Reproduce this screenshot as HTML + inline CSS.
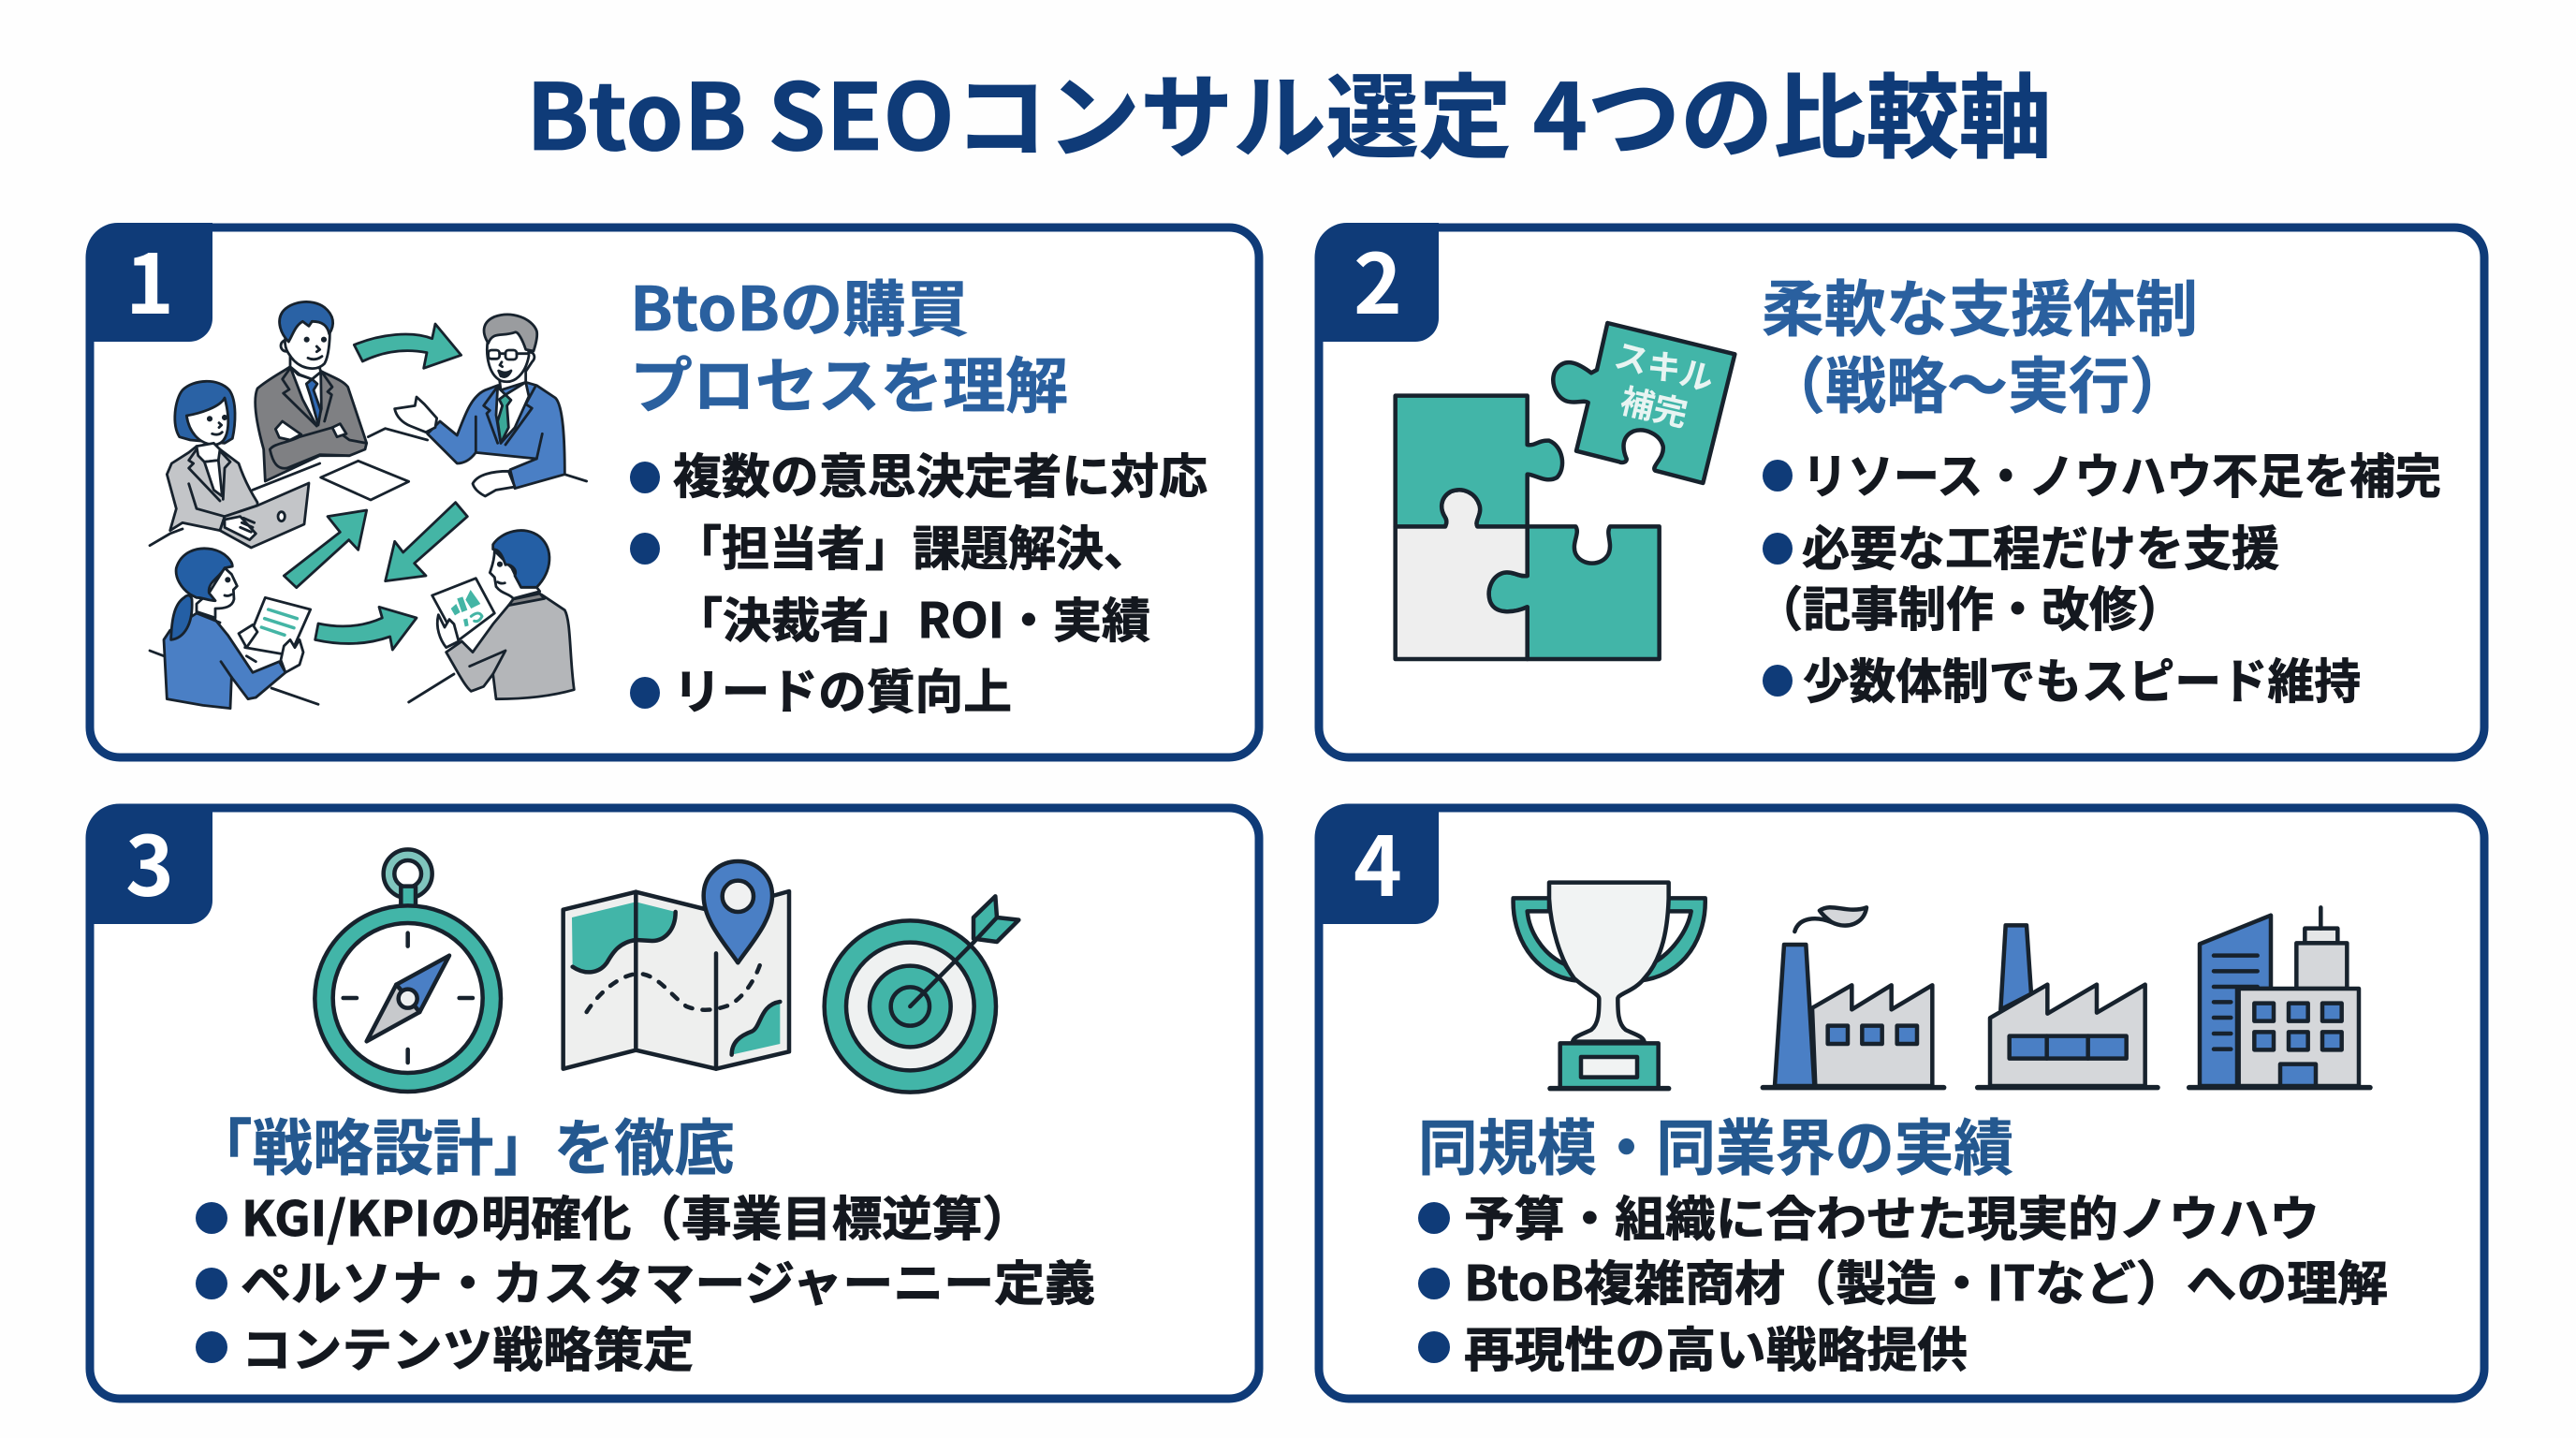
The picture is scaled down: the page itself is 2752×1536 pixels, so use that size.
<!DOCTYPE html>
<html lang="ja"><head><meta charset="utf-8"><title>BtoB SEOコンサル選定 4つの比較軸</title>
<style>
html,body{margin:0;padding:0;background:#fff}
svg{display:block}
text{font-weight:700}
.j{font-family:"Noto Sans CJK JP","Liberation Sans",sans-serif}
.h{font-family:"Noto Sans CJK JP",sans-serif;font-size:65px;fill:#2a609f;stroke:#2a609f;stroke-width:.6px;font-weight:700}
.h2{fill:#24588f;stroke:#24588f}
.b{font-family:"Noto Sans CJK JP",sans-serif;font-size:51px;fill:#14181f;stroke:#14181f;stroke-width:.9px;font-weight:700}
.n{font-family:"Noto Sans CJK JP",sans-serif;font-size:88px;fill:#fff;font-weight:700;text-anchor:middle}
.i *{vector-effect:non-scaling-stroke;stroke-linejoin:round;stroke-linecap:round}
.k *{stroke:#17222d;stroke-width:4.5}
.p *{stroke:#17222d;stroke-width:2.8}
.ns{stroke:none!important}
.nf{fill:none}
</style></head><body>
<svg xmlns="http://www.w3.org/2000/svg" width="2752" height="1536" viewBox="0 0 2752 1536">
<rect width="2752" height="1536" fill="#fefefe"/>
<text class="j" x="562" y="160" font-size="98" fill="#0f3b78" stroke="#0f3b78" stroke-width=".8" textLength="1630" lengthAdjust="spacingAndGlyphs">BtoB SEOコンサル選定 4つの比較軸</text>

<!-- cards -->
<g fill="#fff" stroke="#0f3b78" stroke-width="9">
<rect x="96" y="243" width="1249" height="566" rx="32"/>
<rect x="1409" y="243" width="1245" height="566" rx="32"/>
<rect x="96" y="863" width="1249" height="631" rx="32"/>
<rect x="1409" y="863" width="1245" height="631" rx="32"/>
</g>
<g fill="#0f3b78">
<path d="M92 272a34 34 0 0 1 34-34H227V340a25 25 0 0 1-25 25H92Z"/>
<path d="M1405 272a34 34 0 0 1 34-34H1537V340a25 25 0 0 1-25 25H1405Z"/>
<path d="M92 893a34 34 0 0 1 34-34H227V962a25 25 0 0 1-25 25H92Z"/>
<path d="M1405 893a34 34 0 0 1 34-34H1537V962a25 25 0 0 1-25 25H1405Z"/>
</g>
<text class="n" x="160" y="335">1</text>
<text class="n" x="1472" y="335">2</text>
<text class="n" x="160" y="957">3</text>
<text class="n" x="1472" y="957">4</text>

<!-- Card 1 illustration: upper half -->
<g class="i p" transform="translate(160,310) scale(.33333)">
<path class="nf" d="M330 640 L545 555 M700 470 L755 443 L890 480 M1330 590 L1400 612"/>
<path d="M548 600 L668 547 L830 613 L708 672 Z" fill="#fff"/>
<path d="M655 175 C740 140 840 130 905 155 L915 108 L998 208 L878 250 L888 200 C810 185 740 200 682 228 Z" fill="#44b5a5"/>
<!-- man top -->
<path d="M370 612 L365 510 C340 420 330 350 345 315 C380 285 420 265 450 245 L550 260 C590 280 620 290 635 310 L695 490 L640 530 L545 530 Z" fill="#7f8083"/>
<path d="M450 245 L475 270 L520 285 L548 262 L550 380 L535 435 L490 350 Z" fill="#fff"/>
<path d="M502 300 L520 285 L537 300 L525 320 L548 385 L540 432 L515 340 Z" fill="#2f68b2"/>
<path class="nf" d="M450 250 L425 285 L447 318 L428 330 L535 435 M550 260 L585 310 L570 325 L583 335 L560 420"/>
<path d="M385 510 C400 490 440 490 480 470 L585 440 L640 480 L695 490 L690 510 L640 530 L545 527 L440 570 C410 575 395 555 385 510 Z" fill="#7f8083"/>
<path d="M403 445 L425 420 L485 462 L450 480 L415 472 Z" fill="#fff"/>
<path d="M585 440 L610 428 L630 460 L600 470 Z" fill="#fff"/>
<circle cx="438" cy="178" r="18" fill="#fff"/>
<path d="M450 200 L450 245 L480 270 L520 285 L548 262 L540 230 Z" fill="#fff"/>
<path d="M440 130 C430 160 430 185 450 210 C475 250 530 265 560 235 C575 210 580 140 575 110 C540 90 480 90 440 130 Z" fill="#fff"/>
<path d="M445 165 C420 140 405 100 425 70 C450 35 520 25 560 55 C590 80 595 110 575 140 C570 115 555 100 520 100 L510 115 L490 100 C465 115 460 140 445 165 Z" fill="#2a62a5"/>
<circle cx="503" cy="158" r="5" fill="#17222d"/><circle cx="558" cy="158" r="5" fill="#17222d"/>
<path class="nf" d="M535 180 L545 190 L535 197 M507 217 Q530 228 552 212"/>
<!-- man right -->
<path d="M890 460 L930 420 L985 465 C1010 400 1030 340 1075 320 L1115 305 L1205 295 L1240 305 L1300 345 C1325 370 1330 480 1330 590 L1170 635 L1155 575 L1240 540 L1045 520 C1030 540 1010 555 985 555 Z" fill="#4a7fc5"/>
<path d="M1115 310 L1140 335 L1205 295 L1215 340 L1170 440 L1125 490 L1110 400 Z" fill="#fff"/>
<path d="M1120 350 L1140 335 L1158 352 L1145 370 L1150 440 L1125 490 L1115 420 L1130 370 Z" fill="#3aa898"/>
<path class="nf" d="M1110 315 L1070 370 L1090 385 L1080 395 L1115 490 M1235 310 L1205 365 L1225 378 L1140 495 M1045 405 V520 M1258 460 L1240 540"/>
<path d="M785 380 L850 370 L855 342 L880 365 L920 410 L915 440 L885 455 L835 435 C810 425 790 405 785 380 Z" fill="#fff"/>
<path d="M1035 620 C1050 590 1100 580 1150 580 L1170 630 L1110 640 L1075 660 C1055 650 1040 635 1035 620 Z" fill="#fff"/>
<path d="M1205 260 L1225 230 C1240 215 1230 195 1215 200 L1120 280 L1125 320 L1205 295 Z" fill="#fff"/>
<path d="M1090 130 C1070 200 1085 270 1125 290 C1170 305 1205 265 1215 210 L1210 130 Z" fill="#fff"/>
<path d="M1085 170 C1060 130 1070 100 1105 85 C1160 65 1225 90 1240 130 C1245 150 1235 180 1230 195 L1205 190 C1195 160 1180 130 1170 135 C1130 150 1100 130 1085 170 Z" fill="#9a9c9f"/>
<rect x="1085" y="192" width="36" height="28" rx="10" fill="none"/><rect x="1140" y="192" width="36" height="30" rx="10" fill="none"/>
<path class="nf" d="M1121 203 H1140 M1176 203 H1210 M1128 230 L1122 240 L1130 245"/>
<path d="M1118 258 Q1140 270 1158 258 Q1145 285 1125 275 Z" fill="#17222d"/>
<!-- woman left -->
<path d="M95 470 C70 430 80 350 105 320 C140 285 220 280 255 320 C280 355 275 430 265 475 L240 490 L130 480 Z" fill="#2a62a5"/>
<path d="M118 402 C125 450 155 495 210 495 C255 490 260 420 240 345 C225 375 160 395 118 402 Z" fill="#fff"/>
<circle cx="192" cy="412" r="5" fill="#17222d"/><circle cx="240" cy="408" r="5" fill="#17222d"/>
<path class="nf" d="M200 460 Q220 467 232 455 M222 425 L230 432 L222 440"/>
<path d="M55 590 L70 555 L125 520 L150 500 L225 510 L285 555 C300 600 320 640 345 680 L345 690 L240 725 L225 770 L105 745 L65 770 L85 700 Z" fill="#c3c5c8"/>
<path d="M150 500 L155 530 L175 550 L220 545 L225 510 L205 490 Z" fill="#fff"/>
<path d="M175 550 L220 545 L232 660 L205 640 Z" fill="#fff"/>
<path class="nf" d="M150 510 L125 545 L140 555 L125 570 L225 675 M225 515 L258 550 L240 570 L235 670 M125 620 L150 700 L240 725"/>
<path d="M345 690 L510 618 L495 750 L325 825 L225 770 L240 725 Z" fill="#c3c5c8"/>
<path d="M240 735 L290 725 L340 780 L320 800 L240 760 Z" fill="#fff"/>
<path d="M300 730 L335 745 M295 745 L330 760 M290 760 L325 775" class="nf"/>
<ellipse cx="422" cy="725" rx="11" ry="15" fill="#fff"/>
<path class="nf" d="M0 818 L65 780 L105 765"/>
</g>
<!-- Card 1 illustration: lower half -->
<g class="i p" transform="translate(160,550) scale(.33333)">
<path class="nf" d="M0 435 L45 452 M310 452 L340 470 M390 555 L540 607 M830 600 L975 510"/>
<path d="M430 195 L610 55 L570 5 L695 -15 L668 112 L638 80 L470 233 Z" fill="#44b5a5"/>
<path d="M980 -40 L1018 5 L848 155 L885 195 L755 212 L785 85 L812 120 Z" fill="#44b5a5"/>
<path d="M540 348 C620 365 690 355 745 330 L735 295 L855 330 L778 432 L770 390 C700 415 620 420 530 400 Z" fill="#44b5a5"/>
<!-- woman bottom -->
<path d="M240 170 L262 190 L280 228 L268 240 L270 270 C265 295 240 300 210 300 L210 330 L150 310 L150 285 L190 250 Z" fill="#fff"/>
<path d="M370 265 L515 303 L450 450 L305 425 Z" fill="#fff"/>
<path class="nf" d="M380 303 L472 332 M368 332 L462 362 M358 360 L432 385" style="stroke:#44b5a5;stroke-width:3.5"/>
<path d="M285 380 L330 352 L345 375 L310 425 Z" fill="#fff"/>
<path d="M65 370 L150 315 L205 330 L250 385 L330 505 L415 470 L435 505 L340 585 L315 590 L262 520 L258 620 L170 610 L55 590 L45 400 Z" fill="#4a7fc5"/>
<path class="nf" d="M150 315 L225 345 M228 470 L262 520"/>
<path d="M420 465 L430 420 L450 400 L465 425 L480 400 L492 440 L480 480 L435 505 Z" fill="#fff"/>
<path d="M210 275 C190 275 170 265 150 265 L130 255 C100 235 80 200 85 170 C100 120 150 100 200 110 C245 120 265 150 265 165 L240 170 C220 205 185 215 190 250 Z" fill="#245fa5"/>
<path d="M110 265 C80 285 70 330 68 400 C110 395 140 350 135 270 C130 255 120 255 110 265 Z" fill="#245fa5"/>
<circle cx="250" cy="208" r="5" fill="#17222d"/>
<path class="nf" d="M240 258 Q252 262 262 255"/>
<!-- man bottom right -->
<path d="M905 258 L1045 203 L1105 315 L985 405 Z" fill="#fff"/>
<path d="M965 300 L982 285 L995 312 L978 322 Z M985 268 L1003 262 L1018 305 L1000 312 Z M1012 272 L1028 240 L1060 285 L1030 300 Z M1005 335 L1018 332 L1022 355 L1010 358 Z" fill="#44b5a5" class="ns"/>
<path d="M1030 325 Q1055 305 1065 325 Q1055 345 1040 340" class="nf" style="stroke:#44b5a5;stroke-width:3"/>
<path d="M925 320 C915 360 930 400 950 425 L990 405 L975 350 L960 335 L945 360 Z" fill="#fff"/>
<path d="M1150 290 L1255 255 L1330 305 C1350 340 1345 450 1360 560 C1290 580 1200 590 1110 590 L1100 510 L1070 550 L1030 565 C1010 550 985 500 950 440 L1000 405 L1035 440 L1100 350 Z" fill="#b4b6b9"/>
<path d="M1150 290 L1165 270 L1250 252 L1265 268 Z" fill="#808285"/>
<path class="nf" d="M1140 435 L1100 510 M1140 435 L1025 485"/>
<path d="M1105 115 C1105 145 1095 170 1090 185 L1105 200 L1110 230 C1130 255 1150 250 1165 268 L1250 245 L1240 232 L1190 232 L1160 170 Z" fill="#fff"/>
<path d="M1100 95 C1125 55 1200 30 1250 70 C1295 110 1290 180 1240 232 L1190 232 L1170 195 C1180 170 1150 155 1140 160 C1130 130 1120 110 1100 110 Z" fill="#245fa5"/>
<circle cx="1122" cy="158" r="5" fill="#17222d"/>
<path class="nf" d="M1115 215 Q1125 222 1138 218"/>
</g>

<!-- Card 2 puzzle -->
<g class="i k" transform="translate(1470,330) scale(.33333)">
<path fill="#42b5a8" d="M485 697 H640 C655 720 625 750 640 785 C660 825 725 825 745 785 C760 750 735 720 750 697 H908 V1122 H485 V955 C440 975 380 980 365 935 C355 900 370 855 410 845 C440 840 460 860 485 855 Z"/>
<path fill="#eeeeee" d="M62 697 H222 C225 690 230 680 220 665 C205 640 205 605 240 585 C280 570 320 590 332 630 C340 660 315 680 325 697 H485 V855 C460 860 440 840 410 845 C370 855 355 900 365 935 C380 980 440 975 485 955 V1122 H62 Z"/>
<path fill="#42b5a8" d="M62 278 H485 V435 C510 440 520 420 555 422 C600 440 610 510 580 540 C545 560 510 530 485 530 V697 H325 C315 680 340 660 332 630 C320 590 280 570 240 585 C205 605 205 640 220 665 C230 680 225 690 222 697 H62 Z"/>
<path fill="#42b5a8" d="M742 45 L1150 145 L1048 558 L895 518 C880 505 925 480 920 440 C910 400 860 380 825 392 C785 410 790 450 803 480 C805 490 790 495 780 490 L642 455 L680 300 C665 290 640 305 610 295 C570 280 555 220 580 190 C610 155 650 175 690 205 L708 195 Z"/>
</g>
<text class="j" transform="translate(1778,392) rotate(15)" y="13" text-anchor="middle" font-size="36" fill="#e8f4f2">スキル</text>
<text class="j" transform="translate(1767,435) rotate(13)" y="13" text-anchor="middle" font-size="36" fill="#e8f4f2">補完</text>

<!-- Card 3 icons -->
<g class="i k" transform="translate(320,900) scale(.33333)">
<circle cx="347" cy="100" r="78" fill="#7fc5bd"/>
<circle cx="347" cy="100" r="43" fill="#fff"/>
<path d="M325 140 H372 V205 H325 Z" fill="#42b5a8"/>
<circle cx="347" cy="500" r="298" fill="#42b5a8"/>
<circle cx="347" cy="498" r="240" fill="#fff"/>
<path class="nf" d="M347 290 V332 M347 663 V705 M140 498 H183 M512 498 H555"/>
<path d="M480 362 L310 455 L385 543 Z" fill="#4a7fc5"/>
<path d="M215 637 L310 455 L385 543 Z" fill="#c7c9cc"/>
<circle cx="347" cy="500" r="30" fill="#eef0f0"/>
<path d="M845 215 L1078 158 L1335 222 L1569 156 V670 L1335 725 L1078 665 L845 725 Z" fill="#eeefee"/>
<path class="ns" d="M873 240 L1078 190 L1205 222 C1205 280 1170 315 1130 315 L1078 312 C1020 320 1000 360 985 385 C960 420 915 425 875 398 Z" fill="#42b5a8"/>
<path class="nf" d="M1205 222 C1205 280 1170 315 1130 315 L1078 312 C1020 320 1000 360 985 385 C960 420 915 425 875 398"/>
<path class="ns" d="M1385 680 C1385 640 1410 620 1450 605 C1480 590 1475 520 1540 510 V645 Z" fill="#42b5a8"/>
<path class="nf" d="M1385 680 C1385 640 1410 620 1450 605 C1480 590 1475 520 1540 510"/>
<path class="nf" d="M1078 158 V665 M1335 355 V725"/>
<path class="nf" d="M920 543 C960 480 1030 420 1090 420 C1150 425 1190 490 1240 525 C1290 545 1340 535 1380 520 C1430 490 1465 430 1480 378" stroke-dasharray="8 11"/>
<path d="M1405 385 C1360 320 1295 250 1295 170 C1295 105 1345 60 1405 60 C1465 60 1515 105 1515 170 C1515 250 1450 320 1405 385 Z" fill="#4a7fc5"/>
<circle cx="1405" cy="172" r="50" fill="#f0f1f1"/>
</g>
<g class="i k" transform="translate(830,900) scale(.33333)">
<circle cx="427" cy="525" r="275" fill="#42b5a8"/>
<circle cx="427" cy="525" r="205" fill="#eff1f1"/>
<circle cx="427" cy="525" r="130" fill="#42b5a8"/>
<circle cx="427" cy="525" r="62" fill="#42b5a8"/>
<path class="nf" d="M427 525 L630 320"/>
<path d="M700 172 L705 240 L775 248 L705 318 L630 308 L630 240 Z" fill="#42b5a8"/>
<path class="nf" d="M630 320 L705 240"/>
</g>

<!-- Card 4 icons -->
<g class="i k" transform="translate(1600,930) scale(.33333)">
<path d="M165 88 H50 C45 210 115 335 250 352 L215 300 C140 265 100 190 95 130 H165 Z" fill="#42b5a8"/>
<path d="M545 88 H665 C670 210 600 335 460 352 L490 300 C560 265 610 190 620 130 H545 Z" fill="#42b5a8"/>
<path d="M165 38 H548 V90 C545 180 530 280 470 345 C440 385 385 395 385 410 C385 450 385 490 410 510 C440 525 465 530 470 548 H240 C245 530 270 525 300 510 C325 490 325 450 325 410 C325 395 290 385 245 345 C200 285 170 180 165 90 Z" fill="#f1f3f3"/>
<rect x="200" y="553" width="315" height="145" fill="#42b5a8"/>
<rect x="267" y="597" width="180" height="65" fill="#f1f3f3"/>
<path class="nf" d="M168 698 H548" style="stroke-width:5.5"/>
<path d="M918 237 H988 L1015 690 H888 Z" fill="#4a7fc5"/>
<path d="M1008 440 L1135 367 V445 L1262 367 V445 L1393 367 V690 H1018 Z" fill="#d5d7da"/>
<rect x="1058" y="497" width="64" height="58" fill="#4a7fc5"/><rect x="1168" y="497" width="64" height="58" fill="#4a7fc5"/><rect x="1280" y="497" width="64" height="58" fill="#4a7fc5"/>
<path d="M1032 128 C1070 100 1120 140 1182 118 C1175 170 1120 190 1070 165 C1050 150 1040 140 1032 128 Z" fill="#d5d7da"/>
<path class="nf" d="M952 195 C965 150 1020 145 1070 165"/>
<path class="nf" d="M850 695 H1430" style="stroke-width:5.5"/>
</g>
<g class="i k" transform="translate(2100,950) scale(.33333)">
<path d="M128 115 H195 L210 335 L112 385 Z" fill="#4a7fc5"/>
<path d="M78 412 L262 305 V398 L420 305 V395 L575 305 V630 H78 Z" fill="#d5d7da"/>
<rect x="140" y="470" width="375" height="72" fill="#4a7fc5"/>
<path class="nf" d="M260 470 V542 M392 470 V542"/>
<path class="nf" d="M38 635 H615" style="stroke-width:5.5"/>
<path d="M750 175 L978 83 V318 H870 V630 H750 Z" fill="#4a7fc5"/>
<path class="nf" d="M795 212 H935 M795 262 H935 M795 312 H935 M795 361 H850 M795 411 H850 M795 462 H850 M795 512 H850"/>
<path d="M1087 125 H1192 V172 H1087 Z" fill="#e6e7e8"/>
<path class="nf" d="M1138 58 V125"/>
<path d="M1060 172 H1222 V318 H1060 Z" fill="#d5d7da"/>
<path d="M875 318 H1260 V630 H875 Z" fill="#d5d7da"/>
<g fill="#4a7fc5">
<rect x="925" y="365" width="62" height="57"/><rect x="1035" y="365" width="62" height="57"/><rect x="1143" y="365" width="62" height="57"/>
<rect x="925" y="457" width="62" height="57"/><rect x="1035" y="457" width="62" height="57"/><rect x="1143" y="457" width="62" height="57"/>
<path d="M1008 630 V560 H1122 V630 Z"/>
</g>
<path class="nf" d="M716 635 H1296" style="stroke-width:5.5"/>
</g>

<!-- Headings -->
<text class="h" x="673" y="353" textLength="362" lengthAdjust="spacingAndGlyphs">BtoBの購買</text>
<text class="h" x="673" y="435" textLength="468" lengthAdjust="spacingAndGlyphs">プロセスを理解</text>
<text class="h" x="1882" y="353" textLength="466" lengthAdjust="spacingAndGlyphs">柔軟な支援体制</text>
<text class="h" x="1885" y="435">（戦略〜実行）</text>
<text class="h h2" x="205" y="1249" textLength="580" lengthAdjust="spacingAndGlyphs">「戦略設計」を徹底</text>
<text class="h h2" x="1515" y="1249" textLength="636" lengthAdjust="spacingAndGlyphs">同規模・同業界の実績</text>

<!-- Bullets -->
<g fill="#0f3b78">
<ellipse cx="689" cy="510" rx="16" ry="17"/><ellipse cx="689" cy="586" rx="16" ry="17"/><ellipse cx="689" cy="740" rx="16" ry="17"/>
<ellipse cx="1899" cy="508" rx="16" ry="17"/><ellipse cx="1899" cy="586" rx="16" ry="17"/><ellipse cx="1899" cy="727" rx="16" ry="17"/>
<ellipse cx="226" cy="1301" rx="17" ry="17"/><ellipse cx="226" cy="1371" rx="17" ry="17"/><ellipse cx="226" cy="1439" rx="17" ry="17"/>
<ellipse cx="1532" cy="1301" rx="17" ry="17"/><ellipse cx="1532" cy="1371" rx="17" ry="17"/><ellipse cx="1532" cy="1439" rx="17" ry="17"/>
</g>
<text class="b" x="719" y="527" textLength="571" lengthAdjust="spacingAndGlyphs">複数の意思決定者に対応</text>
<text class="b" x="720" y="604">「担当者」課題解決、</text>
<text class="b" x="720" y="681" textLength="509" lengthAdjust="spacingAndGlyphs">「決裁者」ROI・実績</text>
<text class="b" x="719" y="757" textLength="362" lengthAdjust="spacingAndGlyphs">リードの質向上</text>

<text class="b" x="1925" y="527" textLength="683" lengthAdjust="spacingAndGlyphs">リソース・ノウハウ不足を補完</text>
<text class="b" x="1925" y="604" textLength="510" lengthAdjust="spacingAndGlyphs">必要な工程だけを支援</text>
<text class="b" x="1875" y="669">（記事制作・改修）</text>
<text class="b" x="1926" y="746" textLength="596" lengthAdjust="spacingAndGlyphs">少数体制でもスピード維持</text>

<text class="b" x="258" y="1320" textLength="845" lengthAdjust="spacingAndGlyphs">KGI/KPIの明確化（事業目標逆算）</text>
<text class="b" x="257" y="1389" textLength="913" lengthAdjust="spacingAndGlyphs">ペルソナ・カスタマージャーニー定義</text>
<text class="b" x="258" y="1460" textLength="483" lengthAdjust="spacingAndGlyphs">コンテンツ戦略策定</text>

<text class="b" x="1564" y="1320" textLength="914" lengthAdjust="spacingAndGlyphs">予算・組織に合わせた現実的ノウハウ</text>
<text class="b" x="1564" y="1389" textLength="987" lengthAdjust="spacingAndGlyphs">BtoB複雑商材（製造・ITなど）への理解</text>
<text class="b" x="1564" y="1460" textLength="538" lengthAdjust="spacingAndGlyphs">再現性の高い戦略提供</text>
</svg>
</body></html>
